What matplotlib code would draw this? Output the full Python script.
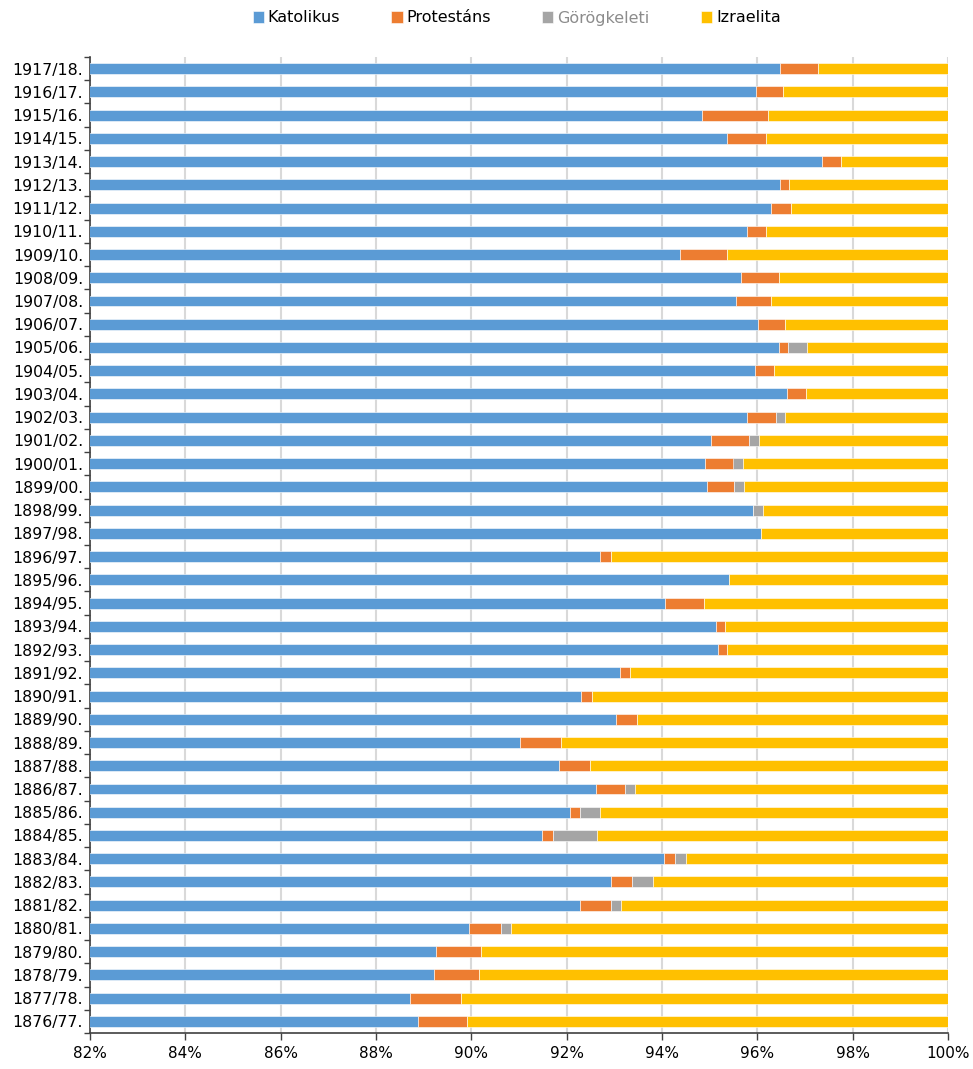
import matplotlib
matplotlib.use("Agg")
import matplotlib.pyplot as plt
import numpy as np
from matplotlib.ticker import FuncFormatter, MultipleLocator

plt.rcParams['font.family'] = ['DejaVu Sans']

# categories from bottom (1876/77) to top (1917/18)
years = ["1876/77.", "1877/78.", "1878/79.", "1879/80.", "1880/81.", "1881/82.",
         "1882/83.", "1883/84.", "1884/85.", "1885/86.", "1886/87.", "1887/88.",
         "1888/89.", "1889/90.", "1890/91.", "1891/92.", "1892/93.", "1893/94.",
         "1894/95.", "1895/96.", "1896/97.", "1897/98.", "1898/99.", "1899/00.",
         "1900/01.", "1901/02.", "1902/03.", "1903/04.", "1904/05.", "1905/06.",
         "1906/07.", "1907/08.", "1908/09.", "1909/10.", "1910/11.", "1911/12.",
         "1912/13.", "1913/14.", "1914/15.", "1915/16.", "1916/17.", "1917/18."]

katolikus = [88.89, 88.72, 89.22, 89.25, 89.96, 92.28, 92.93, 94.04, 91.48, 92.06,
             92.61, 91.84, 91.02, 93.03, 92.31, 93.12, 95.18, 95.13, 94.06, 95.40,
             92.70, 96.08, 95.91, 94.94, 94.91, 95.03, 95.79, 96.63, 95.95, 96.45,
             96.01, 95.55, 95.66, 94.37, 95.78, 96.29, 96.47, 97.35, 95.36, 94.84,
             95.97, 96.47]
protestans = [1.02, 1.07, 0.95, 0.96, 0.66, 0.64, 0.44, 0.23, 0.23, 0.22,
              0.62, 0.65, 0.86, 0.45, 0.23, 0.21, 0.19, 0.19, 0.82, 0.00,
              0.22, 0.00, 0.00, 0.57, 0.59, 0.79, 0.60, 0.40, 0.39, 0.19,
              0.56, 0.74, 0.79, 0.99, 0.40, 0.41, 0.20, 0.40, 0.82, 1.38,
              0.57, 0.81]
gorogkeleti = [0.00, 0.00, 0.00, 0.00, 0.22, 0.22, 0.44, 0.23, 0.92, 0.42,
               0.20, 0.00, 0.00, 0.00, 0.00, 0.00, 0.00, 0.00, 0.00, 0.00,
               0.00, 0.00, 0.20, 0.20, 0.20, 0.21, 0.20, 0.00, 0.00, 0.40,
               0.00, 0.00, 0.00, 0.00, 0.00, 0.00, 0.00, 0.00, 0.00, 0.00,
               0.00, 0.00]
izraelita = [10.09, 10.21, 9.83, 9.79, 9.16, 6.86, 6.19, 5.50, 7.37, 7.30,
             6.57, 7.51, 8.12, 6.52, 7.46, 6.67, 4.63, 4.68, 5.12, 4.60,
             7.08, 3.92, 3.89, 4.29, 4.30, 3.97, 3.41, 2.97, 3.66, 2.96,
             3.43, 3.71, 3.55, 4.64, 3.82, 3.30, 3.33, 2.25, 3.82, 3.78,
             3.46, 2.72]

series = [("Katolikus", katolikus, "#5B9BD5"),
          ("Protestáns", protestans, "#ED7D31"),
          ("Görögkeleti", gorogkeleti, "#A5A5A5"),
          ("Izraelita", izraelita, "#FFC000")]

fig = plt.figure(figsize=(9.73, 10.69), dpi=100)
ax = fig.add_axes([90 / 973, 1 - 1033 / 1069, (948 - 90) / 973, (1033 - 57) / 1069])

y = np.arange(len(years))
left = np.zeros(len(years))
handles = []
for name, vals, col in series:
    v = np.array(vals)
    h = ax.barh(y, v, left=left, height=0.47, color=col, edgecolor='white',
                linewidth=0.4, label=name, zorder=3)
    handles.append(h)
    left = left + v

ax.set_xlim(82, 100)
ax.set_ylim(-0.5, len(years) - 0.5)
ax.xaxis.set_major_locator(MultipleLocator(2))
ax.xaxis.set_major_formatter(FuncFormatter(lambda v, p: f"{v:.0f}%"))
ax.set_yticks(y)
ax.set_yticklabels(years)
ax.set_yticks(np.arange(-0.5, len(years), 1), minor=True)
ax.tick_params(axis='y', which='major', length=0, labelsize=11.3, pad=5)
ax.tick_params(axis='y', which='minor', length=4, color='#404040', width=1)
ax.tick_params(axis='x', length=5, color='#404040', width=1, labelsize=11, pad=4)
ax.grid(axis='x', color='#d9d9d9', linewidth=1.5, zorder=0)
ax.set_axisbelow(True)
for s in ['top', 'right']:
    ax.spines[s].set_visible(False)
for s in ['left', 'bottom']:
    ax.spines[s].set_color('#404040')
    ax.spines[s].set_linewidth(1.2)

leg = fig.legend(handles=handles, loc='center', bbox_to_anchor=(0.531, 1 - 18 / 1069),
                 ncol=4, frameon=False, fontsize=11.5, handlelength=0.7,
                 handleheight=0.7, handletextpad=0.25, columnspacing=3.2)
for t in leg.get_texts():
    if t.get_text() == "Görögkeleti":
        t.set_color('#8c8c8c')

fig.savefig("out.png", dpi=100)
